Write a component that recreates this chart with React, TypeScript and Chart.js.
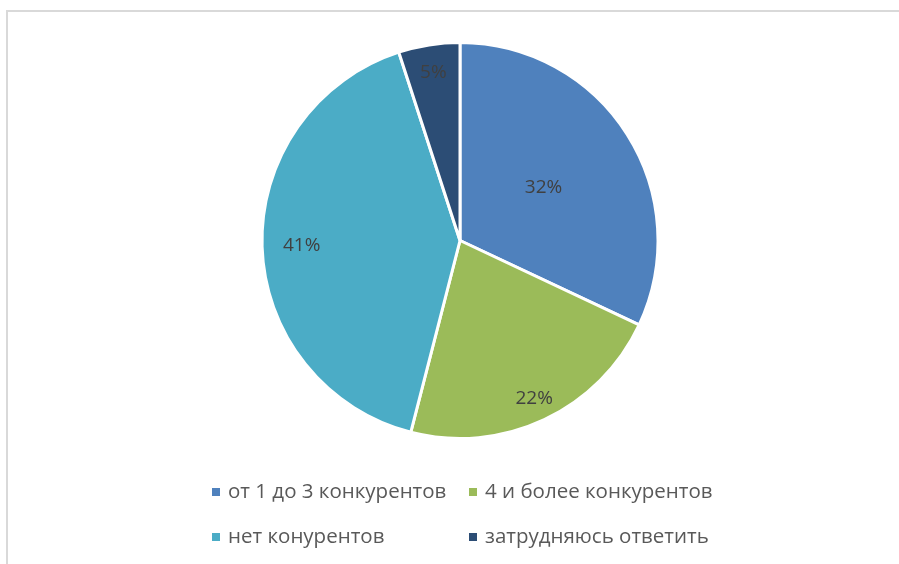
import React, { useEffect, useRef } from "react";
import { Chart, registerables } from "chart.js";

Chart.register(...registerables);

const categories = ["от 1 до 3 конкурентов", "4 и более конкурентов", "нет конурентов", "затрудняюсь ответить"];
const shares = [32, 22, 41, 5];
const sliceColors = ["#4F81BD", "#9BBB59", "#4BACC6", "#2C4D75"];

const labelPlugin = {
  id: "sliceLabels",
  afterDatasetsDraw(chart: any, _args: any, opts: any) {
    const ctx = chart.ctx;
    const meta = chart.getDatasetMeta(0);
    const ds = chart.data.datasets[0];
    ctx.save();
    ctx.font = opts.font;
    ctx.fillStyle = opts.color;
    ctx.textAlign = "center";
    ctx.textBaseline = "middle";
    meta.data.forEach((arc: any, i: number) => {
      const p = arc.getProps(["x", "y", "startAngle", "endAngle", "outerRadius"], true);
      const mid = (p.startAngle + p.endAngle) / 2;
      const r = p.outerRadius * opts.radii[i];
      ctx.fillText(ds.data[i] + "%", p.x + Math.cos(mid) * r, p.y + Math.sin(mid) * r);
    });
    ctx.restore();
  },
};

const legendPlugin = {
  id: "gridLegend",
  afterDraw(chart: any, _args: any, opts: any) {
    const ctx = chart.ctx;
    const labels = chart.data.labels as string[];
    const colors = chart.data.datasets[0].backgroundColor as string[];
    ctx.save();
    ctx.font = opts.font;
    ctx.textBaseline = "middle";
    ctx.textAlign = "left";
    labels.forEach((lab, i) => {
      const col = i % 2;
      const row = Math.floor(i / 2);
      const x = opts.cols[col];
      const y = opts.rows[row];
      ctx.fillStyle = colors[i];
      ctx.fillRect(x, y - opts.box / 2, opts.box, opts.box);
      ctx.fillStyle = opts.color;
      ctx.fillText(lab, x + opts.gap, y);
    });
    ctx.restore();
  },
};

export default function App() {
  const ref = useRef<HTMLCanvasElement>(null);
  useEffect(() => {
    if (!ref.current) return;
    const chart = new Chart(ref.current, {
      type: "pie",
      data: {
        labels: categories,
        datasets: [
          {
            data: shares,
            backgroundColor: sliceColors,
            borderColor: "#ffffff",
            borderWidth: 3,
          },
        ],
      },
      options: {
        responsive: false,
        animation: false,
        devicePixelRatio: 1,
        layout: { padding: { top: 41, bottom: 124, left: 21, right: 0 } },
        plugins: {
          legend: { display: false },
          tooltip: { enabled: false },
          sliceLabels: { font: "19px 'Open Sans'", color: "#404040", radii: [0.5, 0.88, 0.8, 0.86] },
          gridLegend: {
            font: "20.5px 'Open Sans'",
            color: "#595959",
            cols: [212, 469],
            rows: [492, 537],
            box: 8,
            gap: 16,
          },
        } as any,
      },
      plugins: [labelPlugin, legendPlugin],
    });
    return () => chart.destroy();
  }, []);
  return (
    <div style={{ position: "fixed", left: 0, top: 0, width: 899, height: 564, background: "#fff", overflow: "hidden" }}>
      <div
        style={{
          position: "absolute",
          left: 6,
          top: 10,
          width: 900,
          height: 600,
          border: "2px solid #d9d9d9",
          boxSizing: "border-box",
        }}
      />
      <canvas ref={ref} width={899} height={564} style={{ position: "absolute", left: 0, top: 0 }} />
    </div>
  );
}
